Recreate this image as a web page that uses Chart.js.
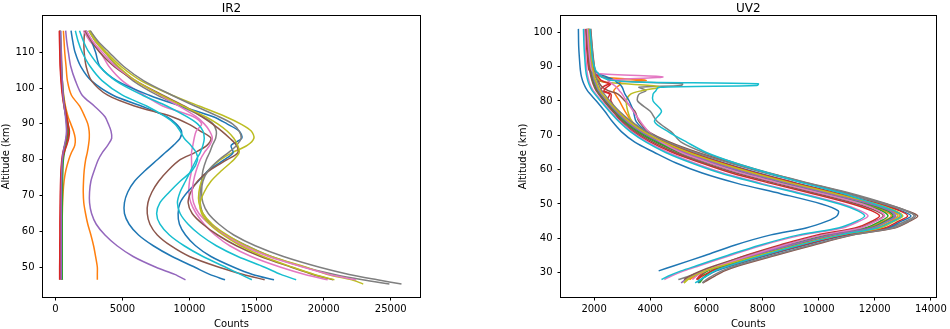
<!DOCTYPE html>
<html><head><meta charset="utf-8">
<script src="https://cdn.jsdelivr.net/npm/chart.js@4.4.0/dist/chart.umd.min.js"></script>
<style>
html,body{margin:0;padding:0;background:#fff;width:950px;height:329px;overflow:hidden;}
.c{position:absolute;top:0;}
</style></head><body>
<div class="c" style="left:0;"><canvas id="ir" width="430" height="329" style="width:430px;height:329px"></canvas></div>
<div class="c" style="left:517px;"><canvas id="uv" width="433" height="329" style="width:433px;height:329px"></canvas></div>
<script>
// ---------------- IR2 panel ----------------
const IR2_ALT = [116, 113, 110, 106, 102, 98, 95, 92, 90, 88, 86, 84, 82, 80, 77, 74, 71, 68, 65, 62, 59, 56, 53, 50, 48, 46.5, 45.3];
const IR2_X_TICKS = [0, 5000, 10000, 15000, 20000, 25000];
const IR2_Y_TICKS = [50, 60, 70, 80, 90, 100, 110];
const IR2_P01 = [1170, 1300, 1470, 1900, 2700, 4300, 6400, 8300, 9000, 9400, 9300, 8800, 8200, 7600, 6700, 5900, 5400, 5150, 5150, 5500, 6200, 7300, 8700, 10400, 11500, 12650, null];
const IR2_P02 = [350, 400, 450, 480, 520, 620, 750, 950, 1150, 1350, 1480, 1450, 1200, 1000, 780, 650, 580, 540, 520, 500, 490, 480, 480, 470, 470, 470, null];
const IR2_P03 = [330, 350, 380, 420, 480, 560, 650, 780, 850, 880, 820, 700, 600, 540, 500, 480, 470, 460, 460, 460, 460, 460, 470, 470, 480, 480, null];
const IR2_P04 = [300, 310, 330, 360, 420, 520, 640, 800, 900, 950, 880, 700, 560, 480, 420, 390, 370, 360, 350, 340, 340, 330, 330, 320, 320, 320, null];
const IR2_P05 = [770, 850, 970, 1150, 1500, 2000, 2900, 3700, 3950, 4150, 4200, 3900, 3500, 3200, 2900, 2650, 2550, 2550, 2700, 3050, 3700, 4600, 5800, 7500, 8900, 9700, null];
const IR2_P06 = [2190, 2130, 2150, 2300, 2700, 3900, 5900, 8700, 9900, 10800, 11600, 11300, 10400, 9300, 8400, 7700, 7200, 6900, 6850, 7050, 7600, 8600, 10000, 12200, 14000, 15600, null];
const IR2_P07 = [2090, 2600, 3350, 4000, 5000, 6600, 8000, 10300, 10900, 10500, 10350, 10250, 10150, 10150, 10150, 10000, 9950, 10100, 10500, 11100, 11900, 13000, 14600, 16800, 18600, 20300, null];
const IR2_P08 = [2490, 3000, 3700, 4600, 5800, 7600, 9300, 11000, 11750, 12000, 11950, 11700, 11500, 11250, 11000, 10900, 10800, 10800, 11000, 11600, 12700, 14300, 16100, 18600, 20800, 22900, 24900];
const IR2_P09 = [2600, 3100, 3800, 4900, 6400, 8700, 10700, 12700, 13800, 14600, 14800, 14300, 13200, 12300, 11400, 10900, 10700, 10700, 11000, 11700, 12800, 14200, 16100, 18700, 20300, 22100, 22950];
const IR2_P10 = [1490, 1700, 2000, 2600, 3500, 5000, 6800, 8200, 8900, 9300, 9600, 10100, 10500, 10600, 10200, 9300, 8500, 7800, 7550, 7800, 8500, 9600, 11000, 12700, 13800, 14650, null];
const IR2_P11 = [2300, 2700, 3000, 3330, 4600, 7000, 9300, 11770, 12800, 13700, 13900, 13100, 13250, 12600, 11400, 10650, 9850, 9300, 9150, 9250, 9700, 10450, 11600, 13300, 14700, 16300, null];
const IR2_P12 = [600, 650, 700, 800, 900, 1200, 1800, 2200, 2420, 2520, 2530, 2470, 2380, 2260, 2150, 2100, 2080, 2120, 2250, 2420, 2650, 2850, 3000, 3130, 3130, 3130, null];
const IR2_P13 = [380, 400, 420, 460, 520, 600, 700, 850, 950, 1000, 950, 800, 680, 600, 560, 540, 530, 520, 510, 510, 510, 510, 510, 510, 510, 520, null];
const IR2_P14 = [320, 330, 350, 380, 450, 560, 700, 850, 950, 1050, 1000, 850, 650, 520, 450, 420, 400, 390, 380, 370, 370, 360, 360, 360, 360, 360, null];
const IR2_P15 = [400, 420, 440, 470, 520, 580, 660, 750, 800, 830, 780, 680, 580, 520, 480, 460, 450, 440, 440, 440, 440, 440, 440, 440, 440, 440, null];
const IR2_P16 = [2200, 2700, 3300, 4400, 6000, 8000, 9600, 10900, 11700, 12400, 13000, 13500, 13600, 12800, 11500, 10600, 10100, 9900, 10200, 11000, 12100, 13500, 15300, 17600, 19200, 20700, null];
const IR2_P17 = [2300, 2800, 3500, 4500, 6000, 7800, 9200, 10500, 11100, 11500, 11700, 11500, 11100, 10800, 10500, 10300, 10200, 10300, 10700, 11500, 12600, 14000, 15900, 18500, 20400, 22400, null];
const IR2_P18 = [2600, 3200, 4000, 5100, 6600, 8700, 10400, 12200, 13200, 13700, 13850, 13500, 12900, 12200, 11400, 11000, 10900, 11000, 11400, 12200, 13300, 14900, 17000, 19700, 21900, 24000, 25800];
const IR2_P19 = [2500, 3000, 3700, 4700, 6000, 7900, 9500, 11200, 12100, 12800, 13300, 13600, 13700, 13300, 12400, 11600, 11100, 10800, 10900, 11500, 12500, 13800, 15500, 17700, 19300, 20800, null];
const IR2_P20 = [1800, 2100, 2500, 3300, 4500, 6500, 8300, 9800, 10600, 11000, 11100, 11000, 10800, 10500, 10100, 9700, 9300, 9100, 9300, 9900, 10800, 12000, 13600, 15600, 16800, 17950, null];
const IR2_SERIES = [IR2_P01, IR2_P02, IR2_P03, IR2_P04, IR2_P05, IR2_P06, IR2_P07, IR2_P08, IR2_P09, IR2_P10,
                    IR2_P11, IR2_P12, IR2_P13, IR2_P14, IR2_P15, IR2_P16, IR2_P17, IR2_P18, IR2_P19, IR2_P20];

// ---------------- UV2 panel ----------------
const UV2_ALT = [101, 96, 92, 89, 88, 87, 86, 85.5, 85, 84.5, 84, 83, 82, 80, 77, 74, 71, 68, 65, 62, 59, 56, 53, 50, 48, 46.5, 45, 43, 41, 38, 35, 32, 30.5, 29, 28, 27];
const UV2_X_TICKS = [2000, 4000, 6000, 8000, 10000, 12000, 14000];
const UV2_Y_TICKS = [30, 40, 50, 60, 70, 80, 90, 100];
const UV2_P01 = [1440, 1450, 1480, 1510, null, 1550, null, null, 1630, null, null, 1760, null, 2080, 2380, 2650, 2980, 3450, 4150, 4900, 5850, 7100, 8650, 10100, 10700, 10650, 10300, 9550, 8300, 7000, 5950, 4850, 4300, null, null, null];
const UV2_P02 = [1760, 1800, 1850, 1900, 2050, 2300, 3850, 2900, 2950, null, 2800, 2700, 2750, 2900, 3100, 3350, 3700, 4300, 5100, 6150, 7350, 8750, 10250, 11650, 12350, 12590, 12300, 11750, 10400, 8950, 7600, 6400, 5900, 5550, 5400, null];
const UV2_P03 = [1740, 1780, 1820, 1860, null, 1910, null, null, 1990, null, null, 2100, null, 2380, 2700, 3070, 3550, 4200, 5020, 6050, 7250, 8650, 10150, 11550, 12250, 12470, 12200, 11650, 10300, 8900, 7650, 6550, 6050, 5800, 5700, null];
const UV2_P04 = [1700, 1730, 1770, 1820, 1950, 2050, 2150, 2350, 2550, 2400, 2300, 2250, 2550, 2450, 2700, 2950, 3400, 4000, 4800, 5800, 6900, 8300, 9800, 11200, 11900, 12170, 11900, 11300, 9950, 8600, 7400, 6400, 5950, 5750, 5650, null];
const UV2_P05 = [1780, 1820, 1870, 1910, null, 1960, null, null, 2040, null, null, 2150, null, 2430, 2760, 3150, 3650, 4320, 5170, 6220, 7430, 8850, 10350, 11800, 12500, 12700, 12400, 11850, 10450, 8950, 7600, 6400, 5850, 5450, 5250, 5100];
const UV2_P06 = [1880, 1930, 1980, 2030, null, 2080, null, null, 2200, null, 2300, 2500, 2850, 3100, 3450, 3600, 3950, 4700, 5700, 6900, 8200, 9650, 11100, 12400, 13150, 13530, 13250, 12700, 11250, 9800, 8450, 7150, 6650, 6300, 6080, 5870];
const UV2_P07 = [1660, 1680, 1710, 1740, null, 1780, null, null, 1850, null, null, 1970, null, 2270, 2580, 2930, 3350, 3920, 4650, 5550, 6600, 7950, 9450, 10850, 11500, 11760, 11450, 10850, 9450, 8000, 6850, 5750, 5200, 4750, 4500, null];
const UV2_P08 = [1800, 1850, 1900, 1980, 2050, 2300, 2800, 3600, 5150, 5100, 3600, 3850, 3600, 3550, 4000, 4250, 4750, 5100, 5900, 7000, 8250, 9700, 11200, 12450, 13150, 13400, 13100, 12500, 11000, 9300, 7900, 6500, 5900, 5400, 5000, null];
const UV2_P09 = [1790, 1840, 1890, 1940, 2000, 2080, 2200, 2350, 3100, 4000, 4350, 3700, 3300, 3150, 3200, 3350, 3750, 4400, 5250, 6320, 7530, 8950, 10450, 11900, 12600, 12830, 12500, 11950, 10550, 9050, 7700, 6500, 5950, 5550, 5350, 5200];
const UV2_P10 = [1620, 1640, 1670, 1700, null, 1740, null, null, 1810, null, null, 1930, null, 2230, 2540, 2880, 3300, 3850, 4550, 5450, 6500, 7850, 9350, 10750, 11400, 11640, 11350, 10700, 9300, 7900, 6750, 5650, 5100, 4650, 4400, null];
const UV2_P11 = [1830, 1880, 1940, 2000, 2150, 2450, 2750, 2800, 2900, null, 3000, 3050, 3100, 3250, 3400, 3500, 3900, 4600, 5500, 6600, 7850, 9250, 10750, 12200, 12950, 13290, 12950, 12450, 11050, 9500, 8150, 6900, 6350, 6000, 5800, 5700];
const UV2_P12 = [1800, 1850, 1900, 1950, null, 2000, null, null, 2080, null, null, 2190, null, 2480, 2810, 3210, 3730, 4420, 5300, 6370, 7600, 9000, 10500, 11950, 12650, 12900, 12600, 12050, 10650, 9150, 7750, 6500, 5950, 5600, 5400, null];
const UV2_P13 = [1770, 1810, 1860, 1900, null, 1950, null, null, 2030, null, null, 2140, null, 2420, 2740, 3130, 3620, 4280, 5120, 6170, 7380, 8800, 10300, 11750, 12450, 12650, 12380, 11850, 10500, 9050, 7800, 6700, 6200, 5950, 5850, 5750];
const UV2_P14 = [1820, 1870, 1920, 1980, 2050, 2150, 2250, 2400, 2600, null, 2450, 2350, 2600, 2600, 2850, 3300, 3850, 4550, 5450, 6550, 7780, 9200, 10700, 12150, 12900, 13170, 12850, 12350, 10950, 9400, 8050, 6800, 6200, 5850, 5650, null];
const UV2_P15 = [1790, 1830, 1880, 1920, null, 1970, null, null, 2050, null, null, 2160, null, 2450, 2780, 3170, 3680, 4350, 5200, 6270, 7480, 8900, 10400, 11850, 12550, 12750, 12450, 11900, 10500, 9000, 7650, 6450, 5900, 5500, 5250, null];
const UV2_P16 = [1720, 1760, 1800, 1840, null, 1890, null, null, 1960, null, null, 2070, null, 2350, 2660, 3020, 3480, 4100, 4900, 5900, 7050, 8450, 9950, 11350, 12050, 12300, 12000, 11450, 10100, 8700, 7450, 6300, 5800, 5400, 5200, null];
const UV2_P17 = [1760, 1800, 1850, 1920, 2100, 4450, 2500, null, 2650, null, 2800, 2900, 3000, 3150, 3400, 3650, 3950, 4400, 5100, 6100, 7250, 8650, 10150, 11550, 12150, 12350, 12050, 11500, 10150, 8750, 7550, 6450, 5950, 5650, 5500, null];
const UV2_P18 = [1870, 1920, 1970, 2020, null, 2070, null, null, 2150, null, null, 2270, null, 2560, 2900, 3330, 3880, 4620, 5600, 6800, 8100, 9550, 11000, 12350, 13100, 13450, 13200, 12650, 11200, 9700, 8350, 7050, 6550, 6200, 6000, 5850];
const UV2_P19 = [1810, 1860, 1910, 1960, null, 2010, null, null, 2100, null, null, 2210, null, 2500, 2840, 3250, 3780, 4480, 5370, 6450, 7680, 9080, 10600, 12050, 12750, 13000, 12700, 12200, 10800, 9250, 7850, 6550, 5950, 5550, 5300, 5200];
const UV2_P20 = [1850, 1900, 1950, 2050, 2150, 2250, 2600, 3500, 7850, 7800, 4300, 4200, 4100, 4100, 4400, 4150, 4650, 5300, 6000, 7000, 8200, 9500, 10900, 12000, 12700, 12950, 12650, 12100, 10800, 9300, 8000, 6800, 6300, 6000, 5800, 5600];
const UV2_SERIES = [UV2_P01, UV2_P02, UV2_P03, UV2_P04, UV2_P05, UV2_P06, UV2_P07, UV2_P08, UV2_P09, UV2_P10,
                    UV2_P11, UV2_P12, UV2_P13, UV2_P14, UV2_P15, UV2_P16, UV2_P17, UV2_P18, UV2_P19, UV2_P20];

const TAB10 = ['#1f77b4', '#ff7f0e', '#2ca02c', '#d62728', '#9467bd', '#8c564b', '#e377c2', '#7f7f7f', '#bcbd22', '#17becf'];
const FONT = 'DejaVu Sans';

const framePlugin = {
  id: 'frame',
  afterDraw(chart) {
    const a = chart.chartArea, ctx = chart.ctx;
    ctx.save();
    ctx.strokeStyle = '#000';
    ctx.lineWidth = 1;
    const l = Math.round(a.left) - 0.5, t = Math.round(a.top) - 0.5;
    const r = Math.round(a.right) + 0.5, b = Math.round(a.bottom) + 0.5;
    ctx.strokeRect(l, t, r - l, b - t);
    ctx.restore();
  }
};

function makeChart(id, title, alt, series, xr, yr, xt, yt, yw, padRight) {
  const datasets = series.map((vals, i) => ({
    data: vals.map((v, k) => (v === null ? null : { x: v, y: alt[k] })).filter(p => p !== null),
    borderColor: TAB10[i % 10],
    backgroundColor: TAB10[i % 10],
    borderWidth: 1.5,
    pointRadius: 0,
    showLine: true,
    fill: false,
    tension: 0.3,
    order: series.length - i
  }));
  const tickGrid = { display: true, drawOnChartArea: false, drawTicks: true, tickLength: 3.5, color: '#000', lineWidth: 1 };
  return new Chart(document.getElementById(id), {
    type: 'scatter',
    data: { datasets },
    options: {
      responsive: false,
      animation: false,
      layout: { padding: { left: 0, right: padRight, top: 0, bottom: 0 } },
      plugins: {
        legend: { display: false },
        tooltip: { enabled: false },
        title: {
          display: true, text: title, fullSize: false, color: '#000',
          font: { family: FONT, size: 12, weight: 'normal', lineHeight: 1 },
          padding: { top: 3, bottom: 1 }
        }
      },
      scales: {
        x: {
          type: 'linear', min: xr[0], max: xr[1],
          afterBuildTicks: s => { s.ticks = xt.map(v => ({ value: v })); },
          afterFit: s => { s.height = 32; },
          grid: tickGrid,
          border: { display: false },
          ticks: { color: '#000', font: { family: FONT, size: 10 }, padding: 3, maxRotation: 0, autoSkip: false, callback: v => String(v) },
          title: { display: true, text: 'Counts', color: '#000', font: { family: FONT, size: 10, lineHeight: 1 }, padding: 0 }
        },
        y: {
          type: 'linear', min: yr[0], max: yr[1],
          afterBuildTicks: s => { s.ticks = yt.map(v => ({ value: v })); },
          afterFit: s => { s.width = yw; },
          grid: tickGrid,
          border: { display: false },
          ticks: { color: '#000', font: { family: FONT, size: 10 }, padding: 5, autoSkip: false, callback: v => String(v) },
          title: { display: true, text: 'Altitude (km)', color: '#000', font: { family: FONT, size: 10, lineHeight: 1 }, padding: { top: 1, bottom: 0 } }
        }
      }
    },
    plugins: [framePlugin]
  });
}

makeChart('ir', 'IR2', IR2_ALT, IR2_SERIES, [-920, 27180], [41.7, 120.1], IR2_X_TICKS, IR2_Y_TICKS, 43, 10);
makeChart('uv', 'UV2', UV2_ALT, UV2_SERIES, [820, 14170], [22.9, 104.75], UV2_X_TICKS, UV2_Y_TICKS, 44, 12);
</script></body></html>
